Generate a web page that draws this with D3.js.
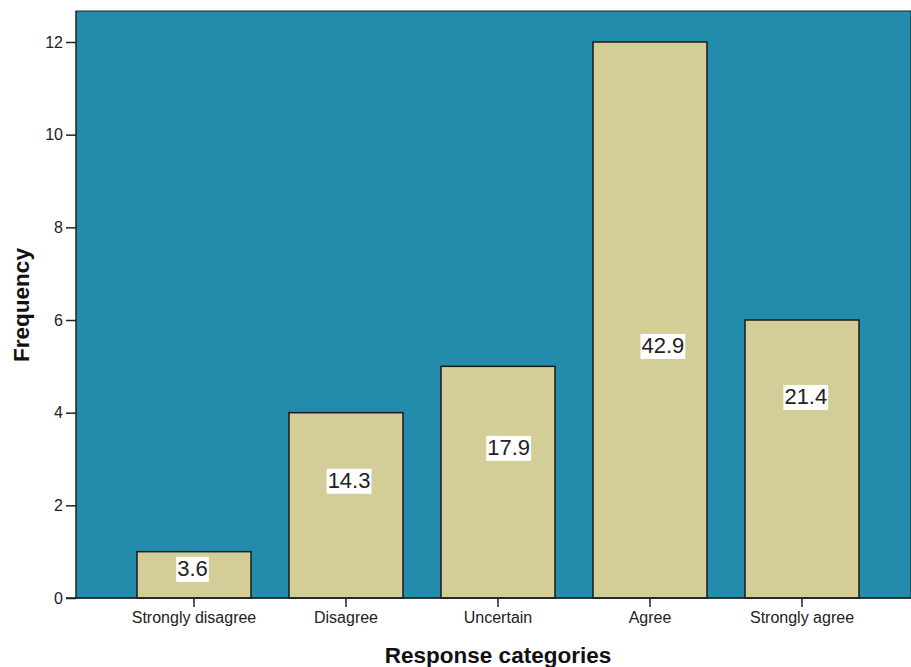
<!DOCTYPE html>
<html><head><meta charset="utf-8">
<script src="https://cdn.jsdelivr.net/npm/d3@7"></script>
<style>body{margin:0;background:#fff}svg{display:block}</style>
</head><body>
<svg id="chart" width="911" height="667"></svg>
<script>
const categories = ["Strongly disagree","Disagree","Uncertain","Agree","Strongly agree"];
const frequencies = [1, 4, 5, 12, 6];
const percentLabels = ["3.6","14.3","17.9","42.9","21.4"];
const labelLevel = [0.65, 2.55, 3.26, 5.46, 4.36];
const labelShift = [-0.01, 0.02, 0.07, 0.085, 0.025];
const yTicks = [0, 2, 4, 6, 8, 10, 12];

const svg = d3.select("#chart");
const L = 76, T = 11, R = 911, B = 598;
const FONT = "Liberation Sans, Arial, sans-serif";

const x = d3.scaleBand().domain(categories).range([118, 878]).paddingInner(0.25).paddingOuter(0.125);
const y = d3.scaleLinear().domain([0, 12]).range([B, 42]);

svg.append("rect").attr("x", L).attr("y", T).attr("width", R - L).attr("height", B - T)
  .attr("fill", "#238bab").attr("stroke", "#222").attr("stroke-width", 1);

svg.append("g").selectAll("rect").data(categories).join("rect")
  .attr("x", d => x(d)).attr("y", (d, i) => y(frequencies[i]))
  .attr("width", x.bandwidth()).attr("height", (d, i) => B - y(frequencies[i]))
  .attr("fill", "#d3ce98").attr("stroke", "#1a1a1a").attr("stroke-width", 1.5);

const lab = svg.append("g").selectAll("g").data(categories).join("g")
  .attr("transform", (d, i) => `translate(${x(d) + x.bandwidth()/2 + labelShift[i]*x.step()},${y(labelLevel[i])})`);
lab.append("rect").attr("fill", "#fff");
lab.append("text").text((d, i) => percentLabels[i])
  .attr("text-anchor", "middle").attr("dy", "0.36em")
  .attr("font-family", FONT).attr("font-size", 22).attr("fill", "#222");
lab.each(function() {
  const g = d3.select(this);
  const bb = g.select("text").node().getBBox();
  g.select("rect").attr("x", bb.x - 1).attr("y", bb.y + 1).attr("width", bb.width + 2).attr("height", bb.height);
});

const yAxis = svg.append("g").attr("transform", `translate(${L},0)`)
  .call(d3.axisLeft(y).tickValues(yTicks).tickSize(10).tickPadding(3));
yAxis.select(".domain").attr("stroke", "#222").attr("d", `M0,${T}V${B}`);
yAxis.selectAll(".tick line").attr("stroke", "#222").attr("stroke-width", 1.5);
yAxis.selectAll("text").attr("font-family", FONT).attr("font-size", 16).attr("fill", "#222");

const xAxis = svg.append("g").attr("transform", `translate(0,${B})`)
  .call(d3.axisBottom(x).tickSize(9).tickPadding(5));
xAxis.select(".domain").attr("stroke", "#222").attr("stroke-width", 1.5).attr("d", `M${L - 10},0H${R}`);
xAxis.selectAll(".tick line").attr("stroke", "#222").attr("stroke-width", 1.5);
xAxis.selectAll("text").attr("font-family", FONT).attr("font-size", 16).attr("fill", "#222");

svg.append("text").text("Response categories").attr("x", 498).attr("y", 663)
  .attr("text-anchor", "middle").attr("font-family", FONT)
  .attr("font-weight", "bold").attr("font-size", 22.5).attr("fill", "#111");
svg.append("text").text("Frequency").attr("transform", "translate(29,305) rotate(-90)")
  .attr("text-anchor", "middle").attr("font-family", FONT)
  .attr("font-weight", "bold").attr("font-size", 22.5).attr("fill", "#111");
</script>
</body></html>
